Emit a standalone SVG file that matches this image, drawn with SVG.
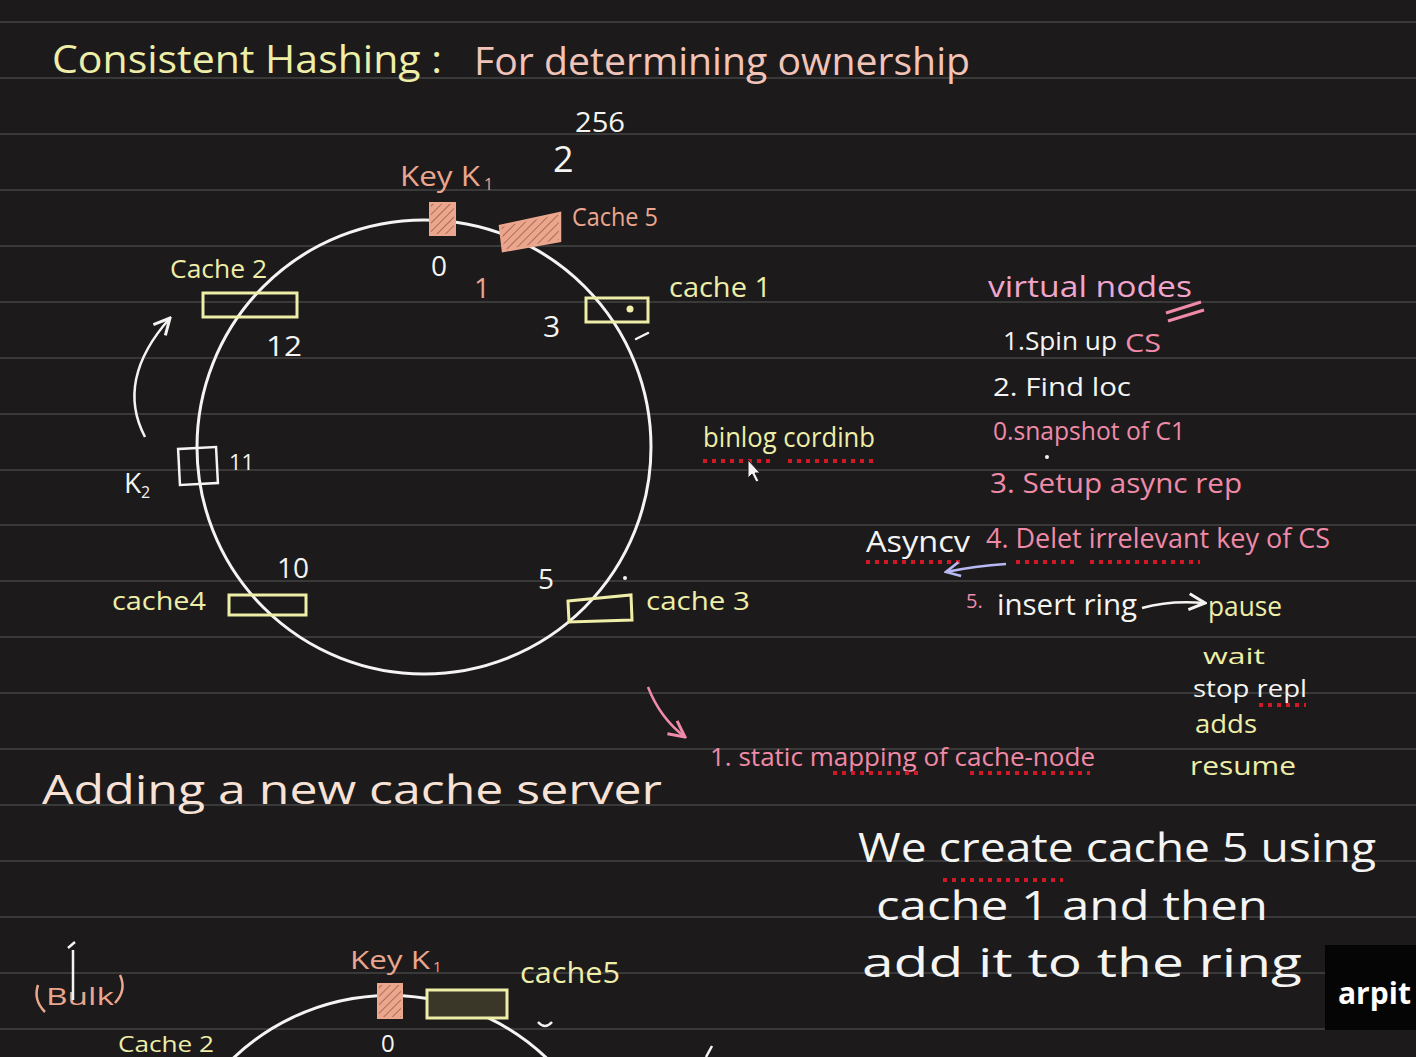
<svg xmlns="http://www.w3.org/2000/svg" width="1416" height="1057" viewBox="0 0 1416 1057">
<defs>
<style>
.t{font-family:"Open Sans","Liberation Sans",sans-serif;font-weight:400}
.w{fill:#f4f4f2}.y{fill:#eeeea8}.pk{fill:#f2c4b8}.sal{fill:#eba68e}.pink{fill:#ef8aa8}.vn{fill:#f0a6cc}.pe{fill:#f8e2d6}
.ring{fill:none;stroke:#f4f4f2;stroke-width:3}
.box{fill:none;stroke:#eeeea8;stroke-width:3}
.rule{stroke:#3a393a;stroke-width:2}
.dots{stroke:#d01828;stroke-width:4;stroke-dasharray:4 5;stroke-linecap:butt}
.wl{fill:none;stroke:#f4f4f2;stroke-width:2.5;stroke-linecap:round}
</style>
<pattern id="hatch" width="6" height="6" patternUnits="userSpaceOnUse" patternTransform="rotate(45)">
<rect width="6" height="6" fill="#eba68e"/>
<line x1="0" y1="0" x2="0" y2="6" stroke="#b06a5a" stroke-width="2"/>
</pattern>
<marker id="ah" viewBox="0 0 10 10" refX="9" refY="5" markerWidth="8" markerHeight="8" orient="auto"><path d="M1,1 L9,5 L1,9" fill="none" stroke="#f4f4f2" stroke-width="1.5"/></marker>
<marker id="ahp" viewBox="0 0 10 10" refX="9" refY="5" markerWidth="8" markerHeight="8" orient="auto"><path d="M1,1 L9,5 L1,9" fill="none" stroke="#ef8aa8" stroke-width="1.5"/></marker>
<marker id="ahb" viewBox="0 0 10 10" refX="9" refY="5" markerWidth="7" markerHeight="7" orient="auto"><path d="M1,1 L9,5 L1,9" fill="none" stroke="#b8b8f4" stroke-width="1.5"/></marker>
</defs>
<rect width="1416" height="1057" fill="#1c1a1b"/>
<g id="rules">
<line class="rule" x1="0" y1="22" x2="1416" y2="22"/>
<line class="rule" x1="0" y1="78" x2="1416" y2="78"/>
<line class="rule" x1="0" y1="134" x2="1416" y2="134"/>
<line class="rule" x1="0" y1="190" x2="1416" y2="190"/>
<line class="rule" x1="0" y1="246" x2="1416" y2="246"/>
<line class="rule" x1="0" y1="302" x2="1416" y2="302"/>
<line class="rule" x1="0" y1="358" x2="1416" y2="358"/>
<line class="rule" x1="0" y1="414" x2="1416" y2="414"/>
<line class="rule" x1="0" y1="470" x2="1416" y2="470"/>
<line class="rule" x1="0" y1="525" x2="1416" y2="525"/>
<line class="rule" x1="0" y1="581" x2="1416" y2="581"/>
<line class="rule" x1="0" y1="637" x2="1416" y2="637"/>
<line class="rule" x1="0" y1="693" x2="1416" y2="693"/>
<line class="rule" x1="0" y1="749" x2="1416" y2="749"/>
<line class="rule" x1="0" y1="805" x2="1416" y2="805"/>
<line class="rule" x1="0" y1="861" x2="1416" y2="861"/>
<line class="rule" x1="0" y1="917" x2="1416" y2="917"/>
<line class="rule" x1="0" y1="973" x2="1416" y2="973"/>
<line class="rule" x1="0" y1="1029" x2="1416" y2="1029"/>
</g>

<g id="title">
<text class="t y" x="52" y="73" font-size="38" textLength="390" lengthAdjust="spacingAndGlyphs">Consistent Hashing :</text>
<text class="t pk" x="474" y="75" font-size="38" textLength="496" lengthAdjust="spacingAndGlyphs">For determining ownership</text>
</g>

<g id="power">
<text class="t w" x="553" y="172" font-size="36">2</text>
<text class="t w" x="575" y="132" font-size="28" textLength="50" lengthAdjust="spacingAndGlyphs">256</text>
</g>

<g id="ring1"><circle class="ring" cx="424" cy="447" r="227"/></g>

<g id="key-k1">
<text class="t sal" x="400" y="186" font-size="28" textLength="80" lengthAdjust="spacingAndGlyphs">Key K</text>
<text class="t sal" x="484" y="190" font-size="16">1</text>
<rect x="430" y="203" width="25" height="32" fill="url(#hatch)" stroke="#eba68e" stroke-width="2"/>
<text class="t w" x="431" y="276" font-size="28">0</text>
</g>

<g id="cache5">
<polygon points="500,226 560,213 560,241 503,251" fill="url(#hatch)" stroke="#eba68e" stroke-width="2.5"/>
<text class="t sal" x="572" y="226" font-size="26" textLength="86" lengthAdjust="spacingAndGlyphs">Cache 5</text>
<text class="t sal" x="474" y="298" font-size="28">1</text>
</g>

<g id="cache1">
<rect class="box" x="586" y="298" width="62" height="24"/>
<circle cx="630" cy="309" r="3.5" fill="#eeeea8"/>
<text class="t y" x="669" y="297" font-size="28" textLength="102" lengthAdjust="spacingAndGlyphs">cache 1</text>
<text class="t w" x="543" y="337" font-size="30">3</text>
<path class="wl" d="M636,339 L648,333"/>
</g>

<g id="cache2">
<text class="t y" x="170" y="278" font-size="26" textLength="97" lengthAdjust="spacingAndGlyphs">Cache 2</text>
<rect class="box" x="203" y="293" width="94" height="24"/>
<text class="t w" x="266" y="356" font-size="28" textLength="36" lengthAdjust="spacingAndGlyphs">12</text>
</g>

<g id="key-k2">
<rect x="179" y="448" width="38" height="36" fill="none" stroke="#f4f4f2" stroke-width="2.5" transform="rotate(-3 198 466)"/>
<text class="t w" x="229" y="470" font-size="22">11</text>
<text class="t w" x="124" y="493" font-size="28">K</text>
<text class="t w" x="141" y="498" font-size="16">2</text>
</g>

<g id="cache4">
<text class="t w" x="277" y="578" font-size="28" textLength="32" lengthAdjust="spacingAndGlyphs">10</text>
<text class="t y" x="112" y="610" font-size="26" textLength="94" lengthAdjust="spacingAndGlyphs">cache4</text>
<rect class="box" x="229" y="595" width="77" height="20"/>
</g>

<g id="cache3">
<text class="t w" x="538" y="589" font-size="28">5</text>
<circle cx="625" cy="578" r="2" fill="#f4f4f2"/>
<polygon points="568,601 631,595 632,620 569,622" class="box"/>
<text class="t y" x="646" y="610" font-size="26" textLength="104" lengthAdjust="spacingAndGlyphs">cache 3</text>
</g>

<g id="binlog">
<text class="t y" x="703" y="447" font-size="28" textLength="172" lengthAdjust="spacingAndGlyphs">binlog cordinb</text>
<line class="dots" x1="703" y1="461" x2="770" y2="461"/>
<line class="dots" x1="788" y1="461" x2="876" y2="461"/>
<path d="M748,460 L748,478 L752,474 L756,482 L759,481 L755,473 L760,473 Z" fill="#f4f4f2" stroke="#1c1a1b" stroke-width="1"/>
</g>

<g id="virtual-nodes">
<text class="t vn" x="988" y="297" font-size="30" textLength="204" lengthAdjust="spacingAndGlyphs">virtual nodes</text>
<path d="M1166,313 L1201,302 M1168,321 L1204,310" stroke="#ef8aa8" stroke-width="3" fill="none"/>
<text class="t w" x="1003" y="350" font-size="26" textLength="114" lengthAdjust="spacingAndGlyphs">1.Spin up</text>
<text class="t pink" x="1125" y="352" font-size="26" textLength="36" lengthAdjust="spacingAndGlyphs">CS</text>
<text class="t w" x="993" y="396" font-size="26" textLength="138" lengthAdjust="spacingAndGlyphs">2. Find loc</text>
<text class="t pink" x="993" y="440" font-size="26" textLength="192" lengthAdjust="spacingAndGlyphs">0.snapshot of C1</text>
<circle cx="1047" cy="457" r="2" fill="#f4f4f2"/>
<text class="t pink" x="990" y="493" font-size="28" textLength="252" lengthAdjust="spacingAndGlyphs">3. Setup async rep</text>
<text class="t w" x="866" y="552" font-size="30" textLength="104" lengthAdjust="spacingAndGlyphs">Asyncv</text>
<text class="t pink" x="986" y="548" font-size="28" textLength="344" lengthAdjust="spacingAndGlyphs">4. Delet irrelevant key of CS</text>
<line class="dots" x1="866" y1="562" x2="962" y2="562"/>
<line class="dots" x1="1016" y1="562" x2="1074" y2="562"/>
<line class="dots" x1="1090" y1="562" x2="1200" y2="562"/>
<path d="M1006,564 Q975,566 946,572" fill="none" stroke="#b8b8f4" stroke-width="2.5" marker-end="url(#ahb)"/>
<text class="t pink" x="966" y="608" font-size="20">5.</text>
<text class="t w" x="997" y="615" font-size="30" textLength="140" lengthAdjust="spacingAndGlyphs">insert ring</text>
<path d="M1142,608 Q1170,600 1205,603" fill="none" stroke="#f4f4f2" stroke-width="2.5" marker-end="url(#ah)"/>
<text class="t y" x="1208" y="616" font-size="28" textLength="74" lengthAdjust="spacingAndGlyphs">pause</text>
<text class="t y" x="1203" y="664" font-size="22" textLength="62" lengthAdjust="spacingAndGlyphs">wait</text>
<text class="t w" x="1193" y="697" font-size="24" textLength="114" lengthAdjust="spacingAndGlyphs">stop repl</text>
<line class="dots" x1="1259" y1="705" x2="1306" y2="705"/>
<text class="t y" x="1195" y="733" font-size="26" textLength="62" lengthAdjust="spacingAndGlyphs">adds</text>
<text class="t y" x="1190" y="775" font-size="26" textLength="106" lengthAdjust="spacingAndGlyphs">resume</text>
</g>

<g id="static-mapping">
<path d="M648,687 Q660,718 685,737" fill="none" stroke="#ef8aa8" stroke-width="2.5" marker-end="url(#ahp)"/>
<text class="t pink" x="710" y="766" font-size="26" textLength="385" lengthAdjust="spacingAndGlyphs">1. static mapping of cache-node</text>
<line class="dots" x1="833" y1="773" x2="920" y2="773"/>
<line class="dots" x1="970" y1="773" x2="1090" y2="773"/>
</g>

<g id="adding">
<text class="t pe" x="42" y="804" font-size="40" textLength="620" lengthAdjust="spacingAndGlyphs">Adding a new cache server</text>
</g>

<g id="note">
<text class="t w" x="858" y="862" font-size="40" textLength="518" lengthAdjust="spacingAndGlyphs">We create cache 5 using</text>
<line class="dots" x1="943" y1="880" x2="1063" y2="880"/>
<text class="t w" x="876" y="920" font-size="40" textLength="392" lengthAdjust="spacingAndGlyphs">cache 1 and then</text>
<text class="t w" x="862" y="977" font-size="40" textLength="440" lengthAdjust="spacingAndGlyphs">add it to the ring</text>
</g>

<g id="watermark">
<rect x="1325" y="945" width="91" height="85" fill="#050505"/>
<text x="1338" y="1004" font-family="'Open Sans','Liberation Sans',sans-serif" font-weight="700" font-size="30" fill="#ffffff">arpit</text>
</g>

<g id="ring2-section">
<path class="ring" d="M220,1072 A227,227 0 0 1 560,1072"/>
<path d="M38,985 Q33,1000 45,1012 M120,975 Q127,990 115,1003" fill="none" stroke="#eba68e" stroke-width="2.5"/>
<text class="t sal" x="46" y="1005" font-size="24" textLength="68" lengthAdjust="spacingAndGlyphs">Bulk</text>
<path d="M73,1000 L73,950 M68,948 L75,942" fill="none" stroke="#f4f4f2" stroke-width="2.5"/>
<text class="t sal" x="350" y="969" font-size="26" textLength="80" lengthAdjust="spacingAndGlyphs">Key K</text>
<text class="t sal" x="433" y="972" font-size="15">1</text>
<rect x="378" y="984" width="24" height="34" fill="url(#hatch)" stroke="#eba68e" stroke-width="2"/>
<rect x="427" y="990" width="80" height="28" fill="#3a3628" stroke="#eeeea8" stroke-width="3"/>
<text class="t y" x="520" y="983" font-size="30" textLength="100" lengthAdjust="spacingAndGlyphs">cache5</text>
<path d="M538,1022 Q545,1030 552,1022" fill="none" stroke="#f4f4f2" stroke-width="2.5"/>
<text class="t w" x="381" y="1052" font-size="24">0</text>
<text class="t y" x="118" y="1052" font-size="22" textLength="96" lengthAdjust="spacingAndGlyphs">Cache 2</text>
<path d="M706,1057 L712,1046" stroke="#f4f4f2" stroke-width="2.5"/>
</g>

<g id="connectors">
<path d="M145,437 Q115,380 170,318" fill="none" stroke="#f4f4f2" stroke-width="2.5" marker-end="url(#ah)"/>
</g>
</svg>
